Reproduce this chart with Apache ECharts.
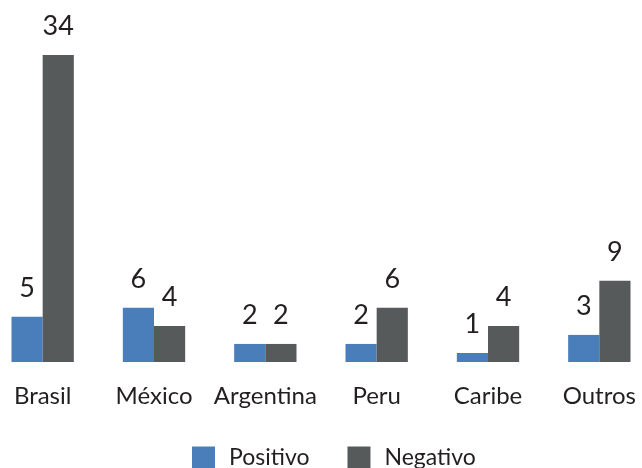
<!DOCTYPE html>
<html>
<head>
<meta charset="utf-8">
<script src="https://cdn.jsdelivr.net/npm/echarts@6/dist/echarts.min.js"></script>
<style>
	html, body {margin: 0; padding: 0; background: #ffffff; overflow: hidden;}
	/* a bit wider than the window so the outer bars sit where the original's do */
	#chart {width: 668px; height: 468px; margin-left: -13px;}
</style>
</head>
<body>
<div id="chart"></div>
<script>
// data
var categories = ['Brasil', 'México', 'Argentina', 'Peru', 'Caribe', 'Outros'];
var positivo = [5, 6, 2, 2, 1, 3];
var negativo = [34, 4, 2, 6, 4, 9];

var txtColor = '#231f20';
var fontName = 'Lato';

var chart = echarts.init(document.getElementById('chart'));

var labelConf = {
	show: true,
	position: 'top',
	distance: 15,
	color: txtColor,
	fontFamily: fontName,
	fontSize: 27
};

var option = {
	animation: false,
	grid: {left: 0, right: 0, top: 55, bottom: 106, containLabel: false},
	legend: {
		top: 446,
		left: 205,
		padding: 0,
		itemWidth: 23,
		itemHeight: 22,
		itemGap: 38,
		icon: 'rect',
		textStyle: {color: txtColor, fontFamily: fontName, fontSize: 23, padding: [0, 0, 0, 9]},
		data: ['Positivo', 'Negativo']
	},
	xAxis: {
		type: 'category',
		data: categories,
		axisLine: {show: false},
		axisTick: {show: false},
		axisLabel: {interval: 0, color: txtColor, fontFamily: fontName, fontSize: 24, margin: 22}
	},
	yAxis: {
		type: 'value',
		min: 0,
		max: 34,
		show: false
	},
	series: [
		{
			name: 'Positivo',
			type: 'bar',
			data: positivo,
			barGap: 0,
			barCategoryGap: '44%',
			itemStyle: {color: '#4a7ebb'},
			label: labelConf
		},
		{
			name: 'Negativo',
			type: 'bar',
			data: negativo,
			itemStyle: {color: '#575a5b'},
			label: labelConf
		}
	]
};
chart.setOption(option);
</script>
</body>
</html>
